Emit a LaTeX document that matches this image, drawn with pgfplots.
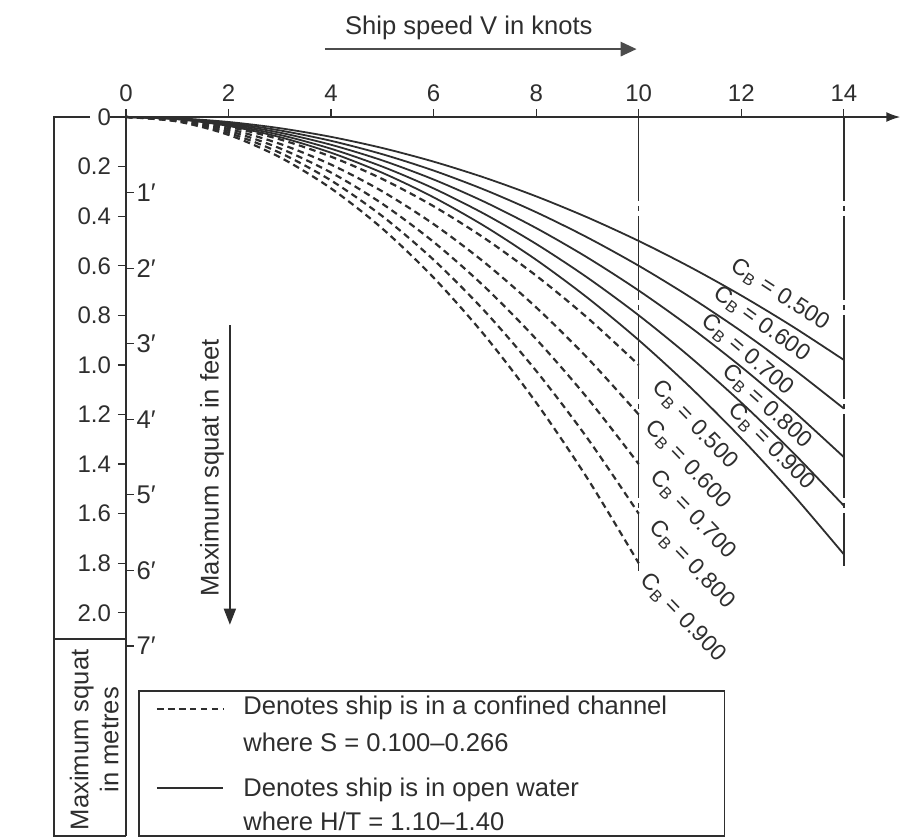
\documentclass[border=0pt]{standalone}
\usepackage{fontspec}
\setmainfont{Liberation Sans}
\usepackage{pgfplots}
\pgfplotsset{compat=1.18}
\usetikzlibrary{arrows.meta}
\definecolor{ink}{gray}{0.18}

\tikzset{
  txt/.style={font=\fontsize{12.8}{15}\selectfont, text=ink},
  cb/.style={font=\fontsize{11.5}{13}\selectfont, text=ink, inner sep=0.5pt},
  open/.style={ink, line width=0.9pt},
  conf/.style={ink, line width=1.1pt, dash pattern=on 3.3pt off 2.2pt},
  guide/.style={ink, line width=0.7pt, dash pattern=on 42pt off 2.5pt on 2.5pt off 2.5pt},
}

\begin{document}
\begin{tikzpicture}
\begin{axis}[
  x=25.65pt, y=124pt, y dir=reverse,
  xmin=0, xmax=15.1, ymin=0, ymax=2.9,
  axis x line*=top, axis y line*=left,
  x axis line style={-{Latex[length=7pt,width=5pt]}},
  y axis line style={-},
  axis line style={ink, line width=0.75pt},
  xtick={0,2,4,6,8,10,12,14},
  xticklabels={0,2,4,6,8,10,12,14},
  ytick={0,0.2,0.4,0.6,0.8,1.0,1.2,1.4,1.6,1.8,2.0},
  yticklabels={0,0.2,0.4,0.6,0.8,1.0,1.2,1.4,1.6,1.8,2.0},
  tick align=outside, major tick length=4pt,
  tick style={ink, line width=0.6pt},
  ticklabel style={font=\fontsize{12}{14}\selectfont, text=ink},
  clip=false,
]

% open water, solid
\addplot[open, smooth] coordinates {
  (0,0)(1,0.005)(2,0.02)(3,0.045)(4,0.08)(5,0.125)(6,0.18)(7,0.245)
  (8,0.32)(9,0.405)(10,0.5)(11,0.605)(12,0.72)(13,0.845)(14,0.98)};
\addplot[open, smooth] coordinates {
  (0,0)(1,0.006)(2,0.024)(3,0.054)(4,0.096)(5,0.15)(6,0.216)(7,0.294)
  (8,0.384)(9,0.486)(10,0.6)(11,0.726)(12,0.864)(13,1.014)(14,1.176)};
\addplot[open, smooth] coordinates {
  (0,0)(1,0.007)(2,0.028)(3,0.063)(4,0.112)(5,0.175)(6,0.252)(7,0.343)
  (8,0.448)(9,0.567)(10,0.7)(11,0.847)(12,1.008)(13,1.183)(14,1.372)};
\addplot[open, smooth] coordinates {
  (0,0)(1,0.008)(2,0.032)(3,0.072)(4,0.128)(5,0.2)(6,0.288)(7,0.392)
  (8,0.512)(9,0.648)(10,0.8)(11,0.968)(12,1.152)(13,1.352)(14,1.568)};
\addplot[open, smooth] coordinates {
  (0,0)(1,0.009)(2,0.036)(3,0.081)(4,0.144)(5,0.225)(6,0.324)(7,0.441)
  (8,0.576)(9,0.729)(10,0.9)(11,1.089)(12,1.296)(13,1.521)(14,1.764)};

% confined channel, dashed
\addplot[conf, smooth] coordinates {
  (0,0)(1,0.01)(2,0.04)(3,0.09)(4,0.16)(5,0.25)(6,0.36)(7,0.49)
  (8,0.64)(9,0.81)(10,1.0)};
\addplot[conf, smooth] coordinates {
  (0,0)(1,0.012)(2,0.048)(3,0.108)(4,0.192)(5,0.3)(6,0.432)(7,0.588)
  (8,0.768)(9,0.972)(10,1.2)};
\addplot[conf, smooth] coordinates {
  (0,0)(1,0.014)(2,0.056)(3,0.126)(4,0.224)(5,0.35)(6,0.504)(7,0.686)
  (8,0.896)(9,1.134)(10,1.4)};
\addplot[conf, smooth] coordinates {
  (0,0)(1,0.016)(2,0.064)(3,0.144)(4,0.256)(5,0.4)(6,0.576)(7,0.784)
  (8,1.024)(9,1.296)(10,1.6)};
\addplot[conf, smooth] coordinates {
  (0,0)(1,0.018)(2,0.072)(3,0.162)(4,0.288)(5,0.45)(6,0.648)(7,0.882)
  (8,1.152)(9,1.458)(10,1.8)};

% verticals at 10 and 14 knots
\draw[guide] (axis cs:10,0) -- (axis cs:10,1.83);
\draw[guide] (axis cs:14,0) -- (axis cs:14,1.81);

% curve labels
\node[cb, rotate=-33] at (axis cs:12.75,0.718) {C\textsubscript{B} = 0.500};
\node[cb, rotate=-36] at (axis cs:12.40,0.835) {C\textsubscript{B} = 0.600};
\node[cb, rotate=-40] at (axis cs:12.12,0.960) {C\textsubscript{B} = 0.700};
\node[cb, rotate=-42] at (axis cs:12.50,1.169) {C\textsubscript{B} = 0.800};
\node[cb, rotate=-45] at (axis cs:12.59,1.331) {C\textsubscript{B} = 0.900};
\node[cb, rotate=-46] at (axis cs:11.09,1.242) {C\textsubscript{B} = 0.500};
\node[cb, rotate=-46] at (axis cs:10.96,1.403) {C\textsubscript{B} = 0.600};
\node[cb, rotate=-46] at (axis cs:11.05,1.605) {C\textsubscript{B} = 0.700};
\node[cb, rotate=-46] at (axis cs:11.03,1.806) {C\textsubscript{B} = 0.800};
\node[cb, rotate=-46] at (axis cs:10.86,2.020) {C\textsubscript{B} = 0.900};

% top title and arrow
\node[txt] at (axis cs:6.686,-0.359) {Ship speed V in knots};
\draw[gray!60!black, line width=1.4pt, -{Triangle[length=8pt,width=7pt]}]
  (axis cs:3.88,-0.274) -- (axis cs:9.96,-0.274);

% feet scale
\draw[ink, line width=0.6pt] (axis cs:0,0.3048) -- ++(4pt,0) node[right, txt, inner sep=1pt] {1′};
\draw[ink, line width=0.6pt] (axis cs:0,0.6096) -- ++(4pt,0) node[right, txt, inner sep=1pt] {2′};
\draw[ink, line width=0.6pt] (axis cs:0,0.9144) -- ++(4pt,0) node[right, txt, inner sep=1pt] {3′};
\draw[ink, line width=0.6pt] (axis cs:0,1.2192) -- ++(4pt,0) node[right, txt, inner sep=1pt] {4′};
\draw[ink, line width=0.6pt] (axis cs:0,1.5240) -- ++(4pt,0) node[right, txt, inner sep=1pt] {5′};
\draw[ink, line width=0.6pt] (axis cs:0,1.8288) -- ++(4pt,0) node[right, txt, inner sep=1pt] {6′};
\draw[ink, line width=0.6pt] (axis cs:0,2.1336) -- ++(4pt,0) node[right, txt, inner sep=1pt] {7′};
\node[txt, rotate=90] at (axis cs:1.676,1.415) {Maximum squat in feet};
\draw[ink, line width=0.8pt, -{Triangle[length=8pt,width=6pt]}]
  (axis cs:2.027,0.839) -- (axis cs:2.027,2.048);

% left box for metres
\draw[ink, line width=0.75pt] (axis cs:-0.702,0) -- (axis cs:-1.4035,0)
  -- (axis cs:-1.4035,2.9) -- (axis cs:0,2.9);
\draw[ink, line width=0.75pt] (axis cs:-0.312,0) -- (axis cs:0,0);
\draw[ink, line width=0.75pt] (axis cs:-1.4035,2.105) -- (axis cs:0,2.105);
\node[txt, rotate=90, align=center] at (axis cs:-0.62,2.512) {Maximum squat\\in metres};

% key box
\draw[ink, line width=0.75pt] (axis cs:0.253,2.315) rectangle (axis cs:11.676,2.9);
\draw[conf] (axis cs:0.604,2.387) -- (axis cs:1.891,2.387);
\draw[open] (axis cs:0.604,2.706) -- (axis cs:1.891,2.706);
\node[txt, anchor=west, inner sep=0pt] at (axis cs:2.281,2.383) {Denotes ship is in a confined channel};
\node[txt, anchor=west, inner sep=0pt] at (axis cs:2.281,2.524) {where S = 0.100–0.266};
\node[txt, anchor=west, inner sep=0pt] at (axis cs:2.281,2.714) {Denotes ship is in open water};
\node[txt, anchor=west, inner sep=0pt] at (axis cs:2.281,2.843) {where H/T = 1.10–1.40};

\coordinate (bbA) at (axis cs:-2.456,-0.472);
\coordinate (bbB) at (axis cs:15.107,2.911);
\end{axis}
\path (bbA) rectangle (bbB);
\end{tikzpicture}
\end{document}
